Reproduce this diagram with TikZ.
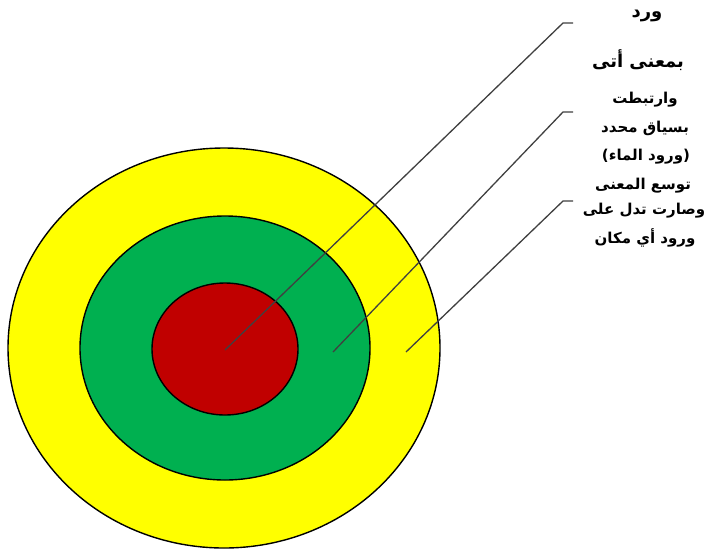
\documentclass[tikz,border=0pt]{standalone}
\usepackage{fontspec}
\newfontfamily\arabicfont[Script=Arabic]{DejaVu Sans}
\TeXXeTstate=1
\definecolor{ringyellow}{HTML}{FFFF00}
\definecolor{ringgreen}{HTML}{00B050}
\definecolor{ringred}{HTML}{C00000}
\definecolor{leader}{HTML}{404040}
\begin{document}
\begin{tikzpicture}[x=1pt,y=-1pt,
  ring/.style={draw=black,line width=1.4pt},
  leaderline/.style={draw=leader,line width=1.3pt},
  bigtxt/.style={font=\arabicfont\bfseries\fontsize{18}{21}\selectfont,inner sep=0pt,anchor=center},
  smalltxt/.style={font=\arabicfont\bfseries\fontsize{15}{18}\selectfont,inner sep=0pt,anchor=center}]
\useasboundingbox (0,0) rectangle (708,555);
\fill[white] (0,0) rectangle (708,555);
\draw[ring,fill=ringyellow] (224,348) ellipse [x radius=216, y radius=200];
\draw[ring,fill=ringgreen] (225,348) ellipse [x radius=145, y radius=132];
\draw[ring,fill=ringred] (225,349) ellipse [x radius=73, y radius=66];
% leader coordinates
\coordinate (a0) at (225,350);
\coordinate (a1) at (563,23);
\coordinate (a2) at (573,23);
\coordinate (b0) at (333,352);
\coordinate (b1) at (563,112);
\coordinate (b2) at (573,112);
\coordinate (c0) at (406,352);
\coordinate (c1) at (563,201);
\coordinate (c2) at (573,201);
\draw[leaderline] (a0) -- (a1) -- (a2);
\draw[leaderline] (b0) -- (b1) -- (b2);
\draw[leaderline] (c0) -- (c1) -- (c2);
% texts
\node[bigtxt] (t1) at (647,16) {\beginR ورد\endR};
\node[bigtxt] (t2) at (638,60) {\beginR بمعنى أتى\endR};
\node[smalltxt] (t3) at (645,100) {\beginR وارتبطت\endR};
\node[smalltxt] (t4) at (645,128) {\beginR بسياق محدد\endR};
\node[smalltxt] (t5) at (646,157) {\beginR (ورود الماء)\endR};
\node[smalltxt] (t6) at (643,186) {\beginR توسع المعنى\endR};
\node[smalltxt] (t7) at (644,211) {\beginR وصارت تدل على\endR};
\node[smalltxt] (t8) at (645,238) {\beginR ورود أي مكان\endR};
\end{tikzpicture}
\end{document}
